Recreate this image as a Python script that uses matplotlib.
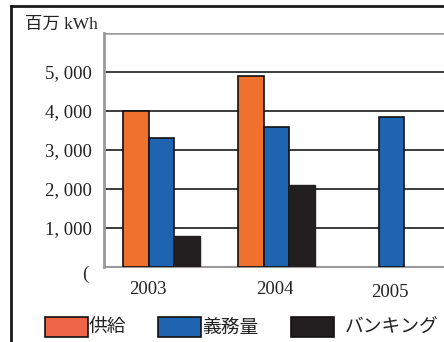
import matplotlib
matplotlib.use("Agg")
import matplotlib.pyplot as plt
import matplotlib.transforms as mtransforms
from matplotlib.patches import Rectangle
from matplotlib.lines import Line2D
import numpy as np

# Data (百万 kWh)
years = ["2003", "2004", "2005"]
supply = [4000, 4900, None]          # 供給
obligation = [3300, 3600, 3850]      # 義務量
banking = [800, 2100, None]          # バンキング
series_names = ["供給", "義務量", "バンキング"]
ytick_vals = [0, 1000, 2000, 3000, 4000, 5000]
ytick_labels = ["", "1, 000", "2, 000", "3, 000", "4, 000", "5, 000"]

c_supply = "#F0702D"
c_oblig = "#1E64B0"
c_bank = "#231F20"
legend_colors = ["#EE6548", "#1E64B0", "#231F20"]

serif = ["Liberation Serif", "Noto Sans CJK JP"]
cjk = ["Noto Sans CJK JP", "DejaVu Sans"]

W, H = 444, 342
fig = plt.figure(figsize=(W / 100, H / 100), dpi=100)
fig.patch.set_facecolor("white")

# axes placed in pixel terms; right edge runs past the figure border
left_px, right_px, top_px, bottom_px = 104, 449, 33, 267
ax = fig.add_axes([left_px / W, 1 - bottom_px / H,
                   (right_px - left_px) / W, (bottom_px - top_px) / H])

x = np.arange(len(years))
w = 0.226

def vals(seq):
    return [np.nan if v is None else v for v in seq]

# horizontal gridlines
for v in [1000, 2000, 3000, 4000, 5000]:
    ax.axhline(v, color="#1a1a1a", lw=1.2, zorder=1)
ax.axhline(6000, color="#9a9a9a", lw=1.8, zorder=1)

ax.bar(x - w, vals(supply), width=w, color=c_supply, edgecolor="#111111",
       linewidth=1.2, zorder=3)
ax.bar(x, vals(obligation), width=w, color=c_oblig, edgecolor="#111111",
       linewidth=1.2, zorder=3)
ax.bar(x + w, vals(banking), width=w, color=c_bank, edgecolor=c_bank,
       linewidth=1.0, zorder=3)

ax.set_xlim(-0.5, 2.5)
ax.set_ylim(0, 6000)

for s in ["top", "right"]:
    ax.spines[s].set_visible(False)
ax.spines["left"].set_color("#9a9a9a")
ax.spines["left"].set_linewidth(2.0)
ax.spines["bottom"].set_color("#9a9a9a")
ax.spines["bottom"].set_linewidth(1.5)

ax.set_yticks(ytick_vals)
ax.set_yticklabels(ytick_labels, fontfamily=serif, fontsize=13.5, color="#222222")
ax.set_xticks(x)
ax.set_xticklabels(years, fontfamily=serif, fontsize=13.5, color="#222222")
ax.tick_params(axis="y", length=0, pad=9)
ax.tick_params(axis="x", length=0, pad=10)

# small per-label nudges of the year labels (points)
nudges = [(-10, 0), (-1.5, 0), (-1.5, -2.5)]
for lbl, (dx, dy) in zip(ax.get_xticklabels(), nudges):
    lbl.set_transform(lbl.get_transform() +
                      mtransforms.ScaledTranslation(dx / 72, dy / 72, fig.dpi_scale_trans))

# clipped zero label
ax.text(-0.5 - 16 / 115, -200, "(", transform=ax.transData, ha="right", va="center",
        fontfamily=serif, fontsize=13.5, color="#222222")

# unit label
fig.text(25 / W, 1 - 25 / H, "百万 kWh", ha="left", va="center",
         fontfamily=serif, fontsize=12.5, color="#222222")

# outer frame (left and top edges)
fig.add_artist(Line2D([11 / W, 11 / W], [0, 1 - 6 / H], transform=fig.transFigure,
                      color="#1a1a1a", lw=2.0))
fig.add_artist(Line2D([11 / W, 1], [1 - 6 / H, 1 - 6 / H], transform=fig.transFigure,
                      color="#1a1a1a", lw=2.0))

# legend
box_x = [45, 158, 291]
text_x = [89, 202, 345]
box_w, box_h = 43, 20
box_top = 317
for bx, tx, col, name in zip(box_x, text_x, legend_colors, series_names):
    fig.add_artist(Rectangle((bx / W, 1 - (box_top + box_h) / H), box_w / W, box_h / H,
                             transform=fig.transFigure, facecolor=col,
                             edgecolor="#111111", linewidth=1.2))
    fig.text(tx / W, 1 - (box_top + box_h / 2) / H, name, ha="left", va="center",
             fontfamily=cjk, fontsize=13.5, color="#222222")

fig.savefig("out.png", dpi=100)
